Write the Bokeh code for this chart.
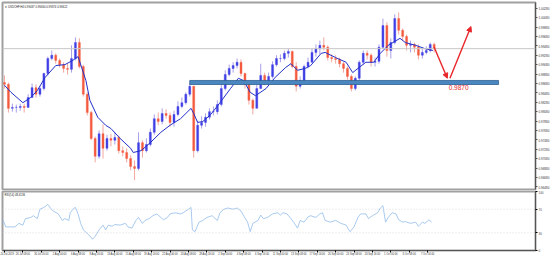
from bokeh.plotting import figure
from bokeh.layouts import column
from bokeh.models import (ColumnDataSource, FixedTicker, Span, Label, Arrow,
                          NormalHead, Range1d, PrintfTickFormatter)
from bokeh.embed import file_html
from bokeh.resources import INLINE
from bokeh.core.properties import value

# ---------------- data (USDCHF, H4; one candle per 3 H4 bars) ----------------
bar_index = list(range(0, 330, 3))
first_open = 0.9870
closes = [0.9866, 0.9815, 0.9817, 0.9817, 0.9819, 0.9817, 0.9838, 0.9859, 0.9845, 0.9857,
          0.9889, 0.9921, 0.9928, 0.9917, 0.9908, 0.9900, 0.9898, 0.9921, 0.9955, 0.9904,
          0.9845, 0.9806, 0.9751, 0.9713, 0.9761, 0.9730, 0.9751, 0.9747, 0.9753, 0.9725,
          0.9721, 0.9708, 0.9691, 0.9687, 0.9742, 0.9725, 0.9738, 0.9764, 0.9793, 0.9787,
          0.9804, 0.9800, 0.9785, 0.9802, 0.9819, 0.9827, 0.9845, 0.9862, 0.9725, 0.9779,
          0.9785, 0.9796, 0.9808, 0.9808, 0.9823, 0.9857, 0.9887, 0.9900, 0.9906, 0.9913,
          0.9889, 0.9866, 0.9832, 0.9815, 0.9857, 0.9885, 0.9872, 0.9883, 0.9908, 0.9921,
          0.9921, 0.9932, 0.9936, 0.9904, 0.9862, 0.9874, 0.9904, 0.9913, 0.9934, 0.9942,
          0.9949, 0.9945, 0.9923, 0.9921, 0.9919, 0.9910, 0.9900, 0.9883, 0.9857, 0.9879,
          0.9913, 0.9932, 0.9928, 0.9913, 0.9915, 0.9945, 0.9991, 0.9938, 0.9955, 1.0006,
          0.9981, 0.9968, 0.9949, 0.9951, 0.9945, 0.9928, 0.9934, 0.9938, 0.9951, 0.9942]
highs = [0.9885, 0.9870, 0.9825, 0.9823, 0.9825, 0.9825, 0.9845, 0.9868, 0.9866, 0.9862,
         0.9891, 0.9925, 0.9938, 0.9932, 0.9921, 0.9913, 0.9910, 0.9949, 0.9966, 0.9964,
         0.9908, 0.9849, 0.9810, 0.9755, 0.9768, 0.9781, 0.9759, 0.9761, 0.9764, 0.9757,
         0.9734, 0.9730, 0.9715, 0.9704, 0.9764, 0.9747, 0.9751, 0.9772, 0.9802, 0.9806,
         0.9815, 0.9813, 0.9806, 0.9810, 0.9830, 0.9838, 0.9849, 0.9868, 0.9862, 0.9789,
         0.9798, 0.9804, 0.9815, 0.9819, 0.9832, 0.9866, 0.9896, 0.9908, 0.9913, 0.9921,
         0.9919, 0.9891, 0.9870, 0.9836, 0.9866, 0.9910, 0.9891, 0.9891, 0.9915, 0.9928,
         0.9930, 0.9938, 0.9942, 0.9938, 0.9913, 0.9883, 0.9908, 0.9923, 0.9942, 0.9951,
         0.9959, 0.9966, 0.9949, 0.9930, 0.9928, 0.9923, 0.9913, 0.9904, 0.9887, 0.9883,
         0.9917, 0.9938, 0.9938, 0.9932, 0.9923, 0.9951, 1.0006, 0.9998, 0.9964, 1.0015,
         1.0019, 0.9985, 0.9972, 0.9959, 0.9955, 0.9951, 0.9942, 0.9947, 0.9955, 0.9955]
lows = [0.9857, 0.9806, 0.9808, 0.9806, 0.9810, 0.9806, 0.9823, 0.9838, 0.9838, 0.9840,
        0.9853, 0.9885, 0.9917, 0.9910, 0.9902, 0.9891, 0.9887, 0.9891, 0.9917, 0.9900,
        0.9840, 0.9800, 0.9747, 0.9700, 0.9708, 0.9708, 0.9725, 0.9734, 0.9738, 0.9719,
        0.9713, 0.9700, 0.9683, 0.9662, 0.9683, 0.9710, 0.9721, 0.9734, 0.9759, 0.9779,
        0.9781, 0.9793, 0.9776, 0.9776, 0.9798, 0.9815, 0.9823, 0.9840, 0.9710, 0.9721,
        0.9772, 0.9776, 0.9791, 0.9800, 0.9802, 0.9819, 0.9853, 0.9883, 0.9891, 0.9900,
        0.9883, 0.9857, 0.9823, 0.9802, 0.9815, 0.9857, 0.9864, 0.9866, 0.9879, 0.9904,
        0.9913, 0.9917, 0.9923, 0.9900, 0.9851, 0.9857, 0.9866, 0.9900, 0.9913, 0.9925,
        0.9930, 0.9938, 0.9917, 0.9913, 0.9910, 0.9902, 0.9891, 0.9876, 0.9851, 0.9853,
        0.9874, 0.9908, 0.9919, 0.9904, 0.9904, 0.9910, 0.9942, 0.9925, 0.9921, 0.9951,
        0.9972, 0.9959, 0.9938, 0.9934, 0.9934, 0.9919, 0.9921, 0.9930, 0.9934, 0.9934]

ma_x = [0, 5, 14, 20, 25, 31, 39, 46, 52, 56, 62, 65, 71, 77, 81, 88, 96, 98, 104, 111,
        119, 126, 134, 142, 144, 147, 151, 157, 164, 172, 178, 182, 187, 191, 199, 206, 214,
        218, 223, 229, 233, 241, 244, 252, 260, 265, 269, 275, 281, 286, 292, 298, 301, 305,
        313, 320, 326]
ma_y = [0.9864, 0.9849, 0.9827, 0.9838, 0.9853, 0.9881, 0.9906, 0.9908, 0.9917, 0.9925,
        0.9874, 0.9832, 0.9796, 0.9779, 0.9772, 0.9751, 0.9730, 0.9721, 0.9725, 0.9742,
        0.9764, 0.9779, 0.9793, 0.9815, 0.9804, 0.9785, 0.9787, 0.9802, 0.9827, 0.9857,
        0.9879, 0.9874, 0.9849, 0.9842, 0.9857, 0.9881, 0.9902, 0.9910, 0.9896, 0.9900,
        0.9906, 0.9932, 0.9934, 0.9923, 0.9913, 0.9891, 0.9900, 0.9913, 0.9913, 0.9932,
        0.9949, 0.9959, 0.9964, 0.9955, 0.9949, 0.9942, 0.9938]

rsi_x = [-2, -1, 1, 5, 8, 11, 14, 16, 20, 22, 25, 27, 30, 33, 35, 37, 41, 44, 46, 49,
         50, 53, 54, 56, 58, 60, 64, 67, 69, 72, 75, 77, 79, 82, 84, 88, 92, 94, 97, 100,
         102, 105, 107, 110, 113, 116, 119, 121, 124, 126, 130, 134, 136, 140, 142, 143, 145, 148, 151, 154,
         158, 162, 164, 167, 170, 174, 177, 180, 182, 185, 187, 189, 193, 195, 197, 200, 204, 208, 210, 212,
         215, 218, 220, 223, 225, 228, 231, 233, 237, 240, 242, 244, 248, 252, 256, 260, 262, 263, 266, 269,
         271, 275, 277, 280, 284, 286, 288, 290, 292, 295, 298, 300, 303, 305, 309, 313, 315, 318, 320, 323,
         325]
rsi_y = [46, 51, 40, 40, 40, 46, 43, 54, 56, 59, 54, 70, 73, 78, 72, 67, 62, 51, 54, 51,
         64, 72, 73, 62, 46, 35, 27, 19, 24, 35, 43, 35, 43, 41, 44, 43, 46, 40, 38, 51,
         56, 46, 51, 54, 59, 62, 56, 52, 56, 62, 64, 62, 64, 70, 73, 35, 32, 48, 51, 56,
         59, 51, 64, 70, 72, 70, 72, 67, 59, 48, 32, 46, 51, 60, 54, 56, 62, 64, 60, 64,
         62, 54, 48, 38, 51, 48, 57, 59, 56, 62, 64, 51, 48, 51, 46, 43, 35, 32, 40, 56,
         62, 62, 54, 59, 64, 72, 76, 48, 56, 64, 62, 52, 48, 49, 46, 48, 41, 48, 46, 52,
         48]

price_ticks = [0.9648, 0.9668, 0.9688, 0.9708, 0.9728, 0.9748, 0.9768, 0.9788, 0.9808, 0.9828,
               0.9848, 0.9868, 0.9888, 0.9908, 0.9928, 0.9948, 0.9968, 0.9988, 1.0008, 1.0028]
date_ticks = [0, 14, 28, 42, 56, 70, 84, 98, 112, 126, 140, 154, 168, 182, 196, 210,
              224, 238, 252, 266, 280, 294, 308, 322]
date_labels = ["24 Jul 2019", "26 Jul 08:00", "30 Jul 16:00", "2 Aug 00:00", "6 Aug 08:00",
               "8 Aug 16:00", "13 Aug 00:00", "15 Aug 08:00", "19 Aug 16:00", "22 Aug 00:00",
               "26 Aug 08:00", "28 Aug 16:00", "2 Sep 00:00", "4 Sep 08:00", "6 Sep 16:00",
               "11 Sep 00:00", "13 Sep 08:00", "17 Sep 16:00", "20 Sep 00:00", "24 Sep 08:00",
               "26 Sep 16:00", "1 Oct 00:00", "3 Oct 08:00", "7 Oct 16:00"]
rsi_ticks = [0, 30, 70, 100]

current_price = 0.9942
support_level = 0.9870
support_start, support_end = 141, 376
forecast_x = [327, 337, 355]
forecast_y = [0.9945, 0.9879, 0.9989]

# ---------------- styling ----------------
FONT = "Liberation Sans"
UP = "#4040e6"
DOWN = "#f45a3e"
RED = "#e8262a"
GRAY = "#a0a0a0"

opens = [first_open] + closes[:-1]
colors = [UP if c >= o else DOWN for o, c in zip(opens, closes)]
wick_colors = ["#a9a0e8" if c >= o else "#f0a8a0" for o, c in zip(opens, closes)]
src = ColumnDataSource(dict(
    x=bar_index, o=opens, c=closes, h=highs, l=lows,
    top=[max(o, c) for o, c in zip(opens, closes)],
    bottom=[min(o, c) for o, c in zip(opens, closes)],
    color=colors, wick=wick_colors))

x_range = Range1d(-1.5, 404.1)

p = figure(width=553, height=190, x_range=x_range, y_range=Range1d(0.96423, 1.00402),
           output_backend="svg", toolbar_location=None, x_axis_location=None,
           y_axis_location="right", min_border_left=2, min_border_right=18,
           min_border_top=2, min_border_bottom=1, background_fill_color="white",
           border_fill_color="white")
p.xgrid.visible = False
p.ygrid.visible = False
p.outline_line_color = GRAY
p.outline_line_width = 2

ax = p.yaxis[0]
ax.ticker = FixedTicker(ticks=price_ticks)
ax.formatter = PrintfTickFormatter(format="%.5f")
ax.major_label_text_font_size = "3px"
ax.major_label_text_font = FONT
ax.major_label_text_color = "#333333"
ax.major_tick_out = 2
ax.major_tick_in = 0
ax.minor_tick_out = 0
ax.minor_tick_in = 0
ax.major_label_standoff = 1
ax.axis_line_color = "#555555"
ax.major_tick_line_color = "#555555"

# current price line
p.add_layout(Span(location=current_price, dimension="width", line_color="#c8c8c8", line_width=1))

# candles
p.segment(x0="x", y0="h", x1="x", y1="l", source=src, line_color="wick", line_width=1)
p.vbar(x="x", width=1.5, top="top", bottom="bottom", source=src, fill_color="color",
       line_color="color", line_width=0.4)

# moving average
p.line(ma_x, ma_y, line_color="#2230c8", line_width=1.0)

# support band
p.quad(left=[support_start], right=[support_end], bottom=[support_level - 0.00043],
       top=[support_level + 0.00043], fill_color="#4a86c0", line_color="#2e5f8f", line_width=0.8)
p.text(x=[forecast_x[1] + 1], y=[support_level - 0.00052], text=["0.9870"],
       text_font=value(FONT), text_font_size="6.5px", text_color=RED, text_baseline="top",
       text_align="left")

# forecast arrows
p.add_layout(Arrow(end=NormalHead(size=5, fill_color=RED, line_color=RED),
                   x_start=forecast_x[0], y_start=forecast_y[0], x_end=forecast_x[1], y_end=forecast_y[1],
                   line_color=RED, line_width=1.4))
p.add_layout(Arrow(end=NormalHead(size=5, fill_color=RED, line_color=RED),
                   x_start=forecast_x[1] + 2, y_start=forecast_y[1], x_end=forecast_x[2], y_end=forecast_y[2],
                   line_color=RED, line_width=1.4))

# current price tag on the axis
p.add_layout(Label(x=x_range.end, y=current_price, text="0.99422", x_offset=1,
                   text_font=FONT, text_font_size="3px", text_baseline="middle",
                   text_color="black", background_fill_color="#d8d8d8",
                   border_line_color="#404040", border_line_width=0.5))

# header text
p.add_layout(Label(x=2, y=181, x_units="screen", y_units="screen",
                   text="\u25bc USDCHF,H4  0.99437 0.99460 0.99374 0.99422",
                   text_font=FONT, text_font_size="2.8px", text_color="#222222"))

# ---------------- RSI panel ----------------
r = figure(width=553, height=69, x_range=x_range, y_range=Range1d(0, 100),
           output_backend="svg", toolbar_location=None, y_axis_location="right",
           min_border_left=2, min_border_right=18, min_border_top=1, min_border_bottom=8,
           background_fill_color="white", border_fill_color="white")
r.xgrid.visible = False
r.ygrid.visible = False
r.outline_line_color = GRAY
r.outline_line_width = 2

ry = r.yaxis[0]
ry.ticker = FixedTicker(ticks=rsi_ticks)
ry.major_label_text_font_size = "3px"
ry.major_label_text_font = FONT
ry.major_tick_out = 2
ry.major_tick_in = 0
ry.minor_tick_out = 0
ry.minor_tick_in = 0
ry.major_label_standoff = 1
ry.axis_line_color = "#555555"

rx = r.xaxis[0]
rx.ticker = FixedTicker(ticks=date_ticks)
rx.major_label_overrides = {t: s for t, s in zip(date_ticks, date_labels)}
rx.major_label_text_font_size = "2.6px"
rx.major_label_text_font = FONT
rx.major_label_text_align = "left"
rx.major_label_text_color = "#333333"
rx.major_tick_out = 2
rx.major_tick_in = 0
rx.minor_tick_out = 0
rx.minor_tick_in = 0
rx.major_label_standoff = 1
rx.axis_line_color = "#555555"

for lvl in (30, 70):
    r.add_layout(Span(location=lvl, dimension="width", line_color="#d4d4d4",
                      line_width=0.8, line_dash="1 2"))
r.line(rsi_x, rsi_y, line_color="#93bdea", line_width=0.8)
r.add_layout(Label(x=2, y=54, x_units="screen", y_units="screen", text="RSI(14) 48.4136",
                   text_font=FONT, text_font_size="2.8px", text_color="#222222"))

layout = column(p, r, spacing=0)
open("out.html", "w").write(file_html(layout, INLINE))
